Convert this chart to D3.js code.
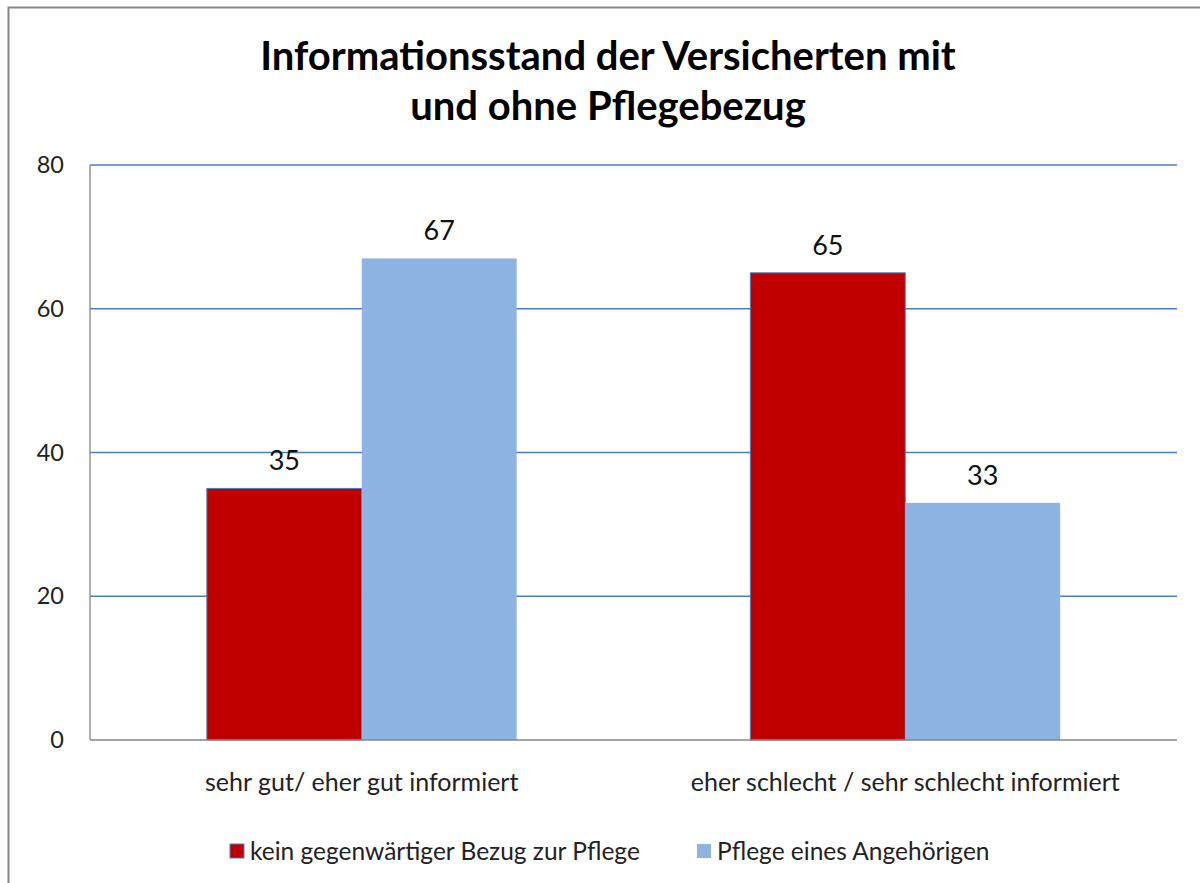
<!DOCTYPE html>
<html><head><meta charset="utf-8">
<script src="https://cdn.jsdelivr.net/npm/d3@7/dist/d3.min.js"></script>
<style>body{margin:0;background:#fff}svg{display:block}</style>
</head><body><svg id="c" width="1200" height="883"></svg>
<script>
const titleLines = ["Informationsstand der Versicherten mit", "und ohne Pflegebezug"];
const categories = ["sehr gut/ eher gut informiert", "eher schlecht / sehr schlecht informiert"];
const seriesNames = ["kein gegenwärtiger Bezug zur Pflege", "Pflege eines Angehörigen"];
const seriesRed = [35, 65];
const seriesBlue = [67, 33];
const yTicks = [0, 20, 40, 60, 80];
const colors = ["#C00000", "#8EB4E3"];

const svg = d3.select("#c");
const font = "Lato, 'Open Sans', sans-serif";
const m = {left: 90, right: 1177, top: 165, bottom: 740};

svg.append("rect").attr("x", 8.5).attr("y", 7.5).attr("width", 1205).attr("height", 890)
  .attr("fill", "#fff").attr("stroke", "#868686").attr("stroke-width", 2);

const y = d3.scaleLinear().domain([0, 80]).range([m.bottom, m.top]);
const x0 = d3.scaleBand().domain(categories).range([m.left, m.right]).paddingInner(0.43).paddingOuter(0.215);
const x1 = d3.scaleBand().domain([0, 1]).range([0, x0.bandwidth()]);

svg.append("g").selectAll("line").data(yTicks.filter(t => t > 0)).join("line")
  .attr("x1", m.left).attr("x2", m.right).attr("y1", d => y(d)).attr("y2", d => y(d))
  .attr("stroke", "#4A7EBB").attr("stroke-width", 1.3);

svg.append("g").selectAll("text").data(yTicks).join("text")
  .attr("x", 64).attr("y", d => y(d)).attr("dy", "0.35em").attr("text-anchor", "end")
  .attr("font-family", font).attr("font-size", 23.5).attr("fill", "#222").text(d => d);

const data = categories.map((c, i) => ({c, vals: [seriesRed[i], seriesBlue[i]]}));
const g = svg.append("g").selectAll("g").data(data).join("g")
  .attr("transform", d => `translate(${x0(d.c)},0)`);
g.selectAll("rect").data(d => d.vals.map((v, k) => ({v, k}))).join("rect")
  .attr("x", d => x1(d.k)).attr("width", x1.bandwidth())
  .attr("y", d => y(d.v)).attr("height", d => y(0) - y(d.v))
  .attr("fill", d => colors[d.k])
  .attr("stroke", d => d.k === 0 ? "#4A7EBB" : "none").attr("stroke-width", 1);
g.selectAll("text").data(d => d.vals.map((v, k) => ({v, k}))).join("text")
  .attr("x", d => x1(d.k) + x1.bandwidth() / 2).attr("y", d => y(d.v) - 18)
  .attr("text-anchor", "middle").attr("font-family", font).attr("font-size", 27).attr("fill", "#111")
  .text(d => d.v);

svg.append("line").attr("x1", m.left).attr("x2", m.left).attr("y1", m.top).attr("y2", m.bottom)
  .attr("stroke", "#868686").attr("stroke-width", 1.3);
svg.append("line").attr("x1", m.left).attr("x2", m.right).attr("y1", m.bottom).attr("y2", m.bottom)
  .attr("stroke", "#868686").attr("stroke-width", 1.3);

svg.append("g").selectAll("text").data(categories).join("text")
  .attr("x", d => x0(d) + x0.bandwidth() / 2).attr("y", 791).attr("text-anchor", "middle")
  .attr("font-family", font).attr("font-size", 25).attr("fill", "#222").text(d => d);

svg.append("g").selectAll("text").data(titleLines).join("text")
  .attr("x", 608).attr("y", (d, i) => 70 + i * 50).attr("text-anchor", "middle")
  .attr("font-family", font).attr("font-weight", "bold").attr("font-size", 40).attr("fill", "#000").text(d => d);

const legX = [230, 697];
const lg = svg.append("g").selectAll("g").data(seriesNames).join("g")
  .attr("transform", (d, i) => `translate(${legX[i]},844)`);
lg.append("rect").attr("width", 14).attr("height", 14).attr("fill", (d, i) => colors[i])
  .attr("stroke", (d, i) => i === 0 ? "#4A7EBB" : "none");
lg.append("text").attr("x", 20).attr("y", 7).attr("dy", "0.35em")
  .attr("font-family", font).attr("font-size", 24.5).attr("fill", "#222").text(d => d);
</script></body></html>
